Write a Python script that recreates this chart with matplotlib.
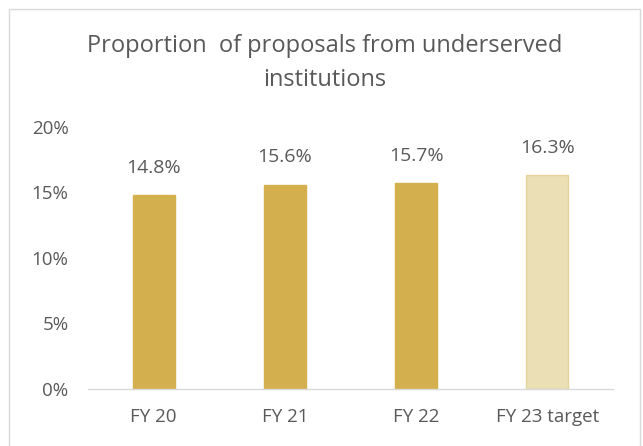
import matplotlib.pyplot as plt
from matplotlib.patches import Rectangle

# data
categories = ["FY 20", "FY 21", "FY 22", "FY 23 target"]
values = [14.8, 15.6, 15.7, 16.3]
is_target = [False, False, False, True]
yticks = [0, 5, 10, 15, 20]

gold = "#D3B04D"
light_gold = "#EBDFB6"
text_col = "#595959"

plt.rcParams['font.family'] = ['Open Sans', 'DejaVu Sans']

fig = plt.figure(figsize=(6.43, 4.46), dpi=100)
ax = fig.add_axes([88/643, 1-389/446, (613-88)/643, (389-127)/446])

colors = [light_gold if t else gold for t in is_target]
edges = ["#E4D39C" if t else gold for t in is_target]
x = range(len(categories))
bars = ax.bar(x, values, width=0.32, color=colors, edgecolor=edges, linewidth=1)

# value labels above bars
for xi, v in zip(x, values):
    ax.text(xi, v + 2.1, f"{v:.1f}%", ha="center", va="center", fontsize=14, color=text_col)

ax.set_xlim(-0.5, len(categories) - 0.5)
ax.set_ylim(0, 20)
ax.set_yticks(yticks)
ax.set_yticklabels([f"{t}%" for t in yticks])
ax.set_xticks(list(x))
ax.set_xticklabels(categories)
ax.tick_params(axis="both", length=0, labelsize=13.5, colors=text_col)
ax.tick_params(axis="y", pad=14)
ax.tick_params(axis="x", pad=14)

for s in ["top", "right", "left"]:
    ax.spines[s].set_visible(False)
ax.spines["bottom"].set_color("#D9D9D9")
ax.spines["bottom"].set_linewidth(1)

fig.text(325/643, 1-46/446, "Proportion  of proposals from underserved", ha="center", va="center",
         fontsize=17, color=text_col)
fig.text(325/643, 1-80/446, "institutions", ha="center", va="center", fontsize=17, color=text_col)

# outer chart border
fig.patches.append(Rectangle((9/643, -0.01), (640-9)/643, 1-9/446 + 0.01, transform=fig.transFigure,
                             fill=False, edgecolor="#D9D9D9", linewidth=1))

fig.savefig("out.png", dpi=100)
